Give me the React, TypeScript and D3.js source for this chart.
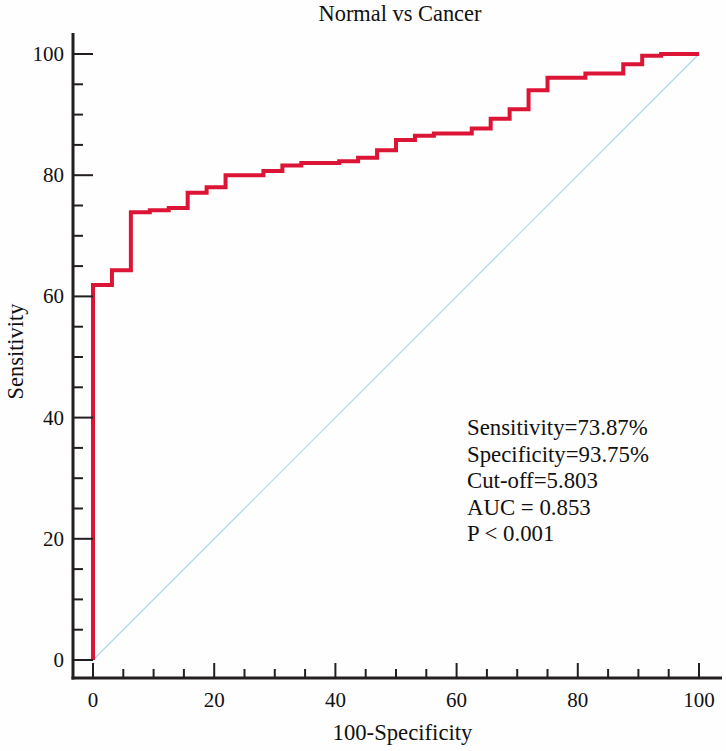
import React from "react";
import * as d3 from "d3";

const W = 726;
const H = 751;

// ROC step points (100-Specificity, Sensitivity)
const fpr = [0, 0, 3.125, 6.25, 9.375, 12.5, 15.625, 18.75, 21.875, 28.125, 31.25, 34.375, 40.625, 43.75, 46.875, 50, 53.125, 56.25, 62.5, 65.625, 68.75, 71.875, 75, 81.25, 87.5, 90.625, 93.75, 100];
const sens = [0, 61.9, 64.3, 73.87, 74.2, 74.6, 77.1, 78.0, 80.0, 80.7, 81.6, 82.0, 82.3, 82.9, 84.1, 85.8, 86.5, 86.9, 87.7, 89.3, 90.9, 94.0, 96.1, 96.8, 98.3, 99.7, 100, 100];

const majorTicks = [0, 20, 40, 60, 80, 100];
const minorTicks = [5, 10, 15, 25, 30, 35, 45, 50, 55, 65, 70, 75, 85, 90, 95];

const title = "Normal vs Cancer";
const xLabel = "100-Specificity";
const yLabel = "Sensitivity";
const annotations = ["Sensitivity=73.87%", "Specificity=93.75%", "Cut-off=5.803", "AUC = 0.853", "P < 0.001"];

export default function App() {
  const x = d3.scaleLinear().domain([0, 100]).range([93, 699]);
  const y = d3.scaleLinear().domain([0, 100]).range([660, 54]);
  const pts: [number, number][] = fpr.map((v, i) => [v, sens[i]]);
  const line = d3
    .line<[number, number]>()
    .x((d) => x(d[0]))
    .y((d) => y(d[1]))
    .curve(d3.curveStepAfter);
  const axisX = 73;
  const axisY = 678;
  const font = "'Liberation Serif', 'Times New Roman', serif";
  const axisColor = "#231f20";
  return (
    <svg width={W} height={H} style={{ position: "absolute", left: 0, top: 0, background: "#fff" }} fontFamily={font}>
      <rect x={0} y={0} width={W} height={H} fill="#fefefe" />
      <text x={400} y={21} fontSize={22.4} textAnchor="middle" fill="#111">{title}</text>
      {/* diagonal */}
      <line x1={x(0)} y1={y(0)} x2={x(100)} y2={y(100)} stroke="#a9d9ea" strokeWidth={1.2} />
      {/* ROC */}
      <path d={line(pts) || ""} fill="none" stroke="#dc1436" strokeWidth={4} strokeLinejoin="miter" />
      {/* axes */}
      <line x1={axisX} y1={33} x2={axisX} y2={axisY + 1.5} stroke={axisColor} strokeWidth={3} />
      <line x1={axisX - 1.5} y1={axisY} x2={722} y2={axisY} stroke={axisColor} strokeWidth={3} />
      {majorTicks.map((t) => (
        <g key={"ym" + t}>
          <line x1={axisX} x2={axisX + 20} y1={y(t)} y2={y(t)} stroke={axisColor} strokeWidth={2} />
          <text x={64} y={y(t) + 7} fontSize={21} textAnchor="end" fill="#111">{t}</text>
        </g>
      ))}
      {minorTicks.map((t) => (
        <line key={"yn" + t} x1={axisX} x2={axisX + 10} y1={y(t)} y2={y(t)} stroke={axisColor} strokeWidth={2} />
      ))}
      {majorTicks.map((t) => (
        <g key={"xm" + t}>
          <line x1={x(t)} x2={x(t)} y1={axisY} y2={axisY - 15} stroke={axisColor} strokeWidth={2} />
          <text x={x(t)} y={707} fontSize={21} textAnchor="middle" fill="#111">{t}</text>
        </g>
      ))}
      {minorTicks.map((t) => (
        <line key={"xn" + t} x1={x(t)} x2={x(t)} y1={axisY} y2={axisY - 9} stroke={axisColor} strokeWidth={2} />
      ))}
      <text x={402.5} y={740} fontSize={22.7} textAnchor="middle" fill="#111">{xLabel}</text>
      <text transform={`translate(23,351.5) rotate(-90)`} fontSize={22.4} textAnchor="middle" fill="#111">{yLabel}</text>
      {annotations.map((a, i) => (
        <text key={a} x={467} y={435 + i * 26.5} fontSize={22.8} fill="#111">{a}</text>
      ))}
    </svg>
  );
}
